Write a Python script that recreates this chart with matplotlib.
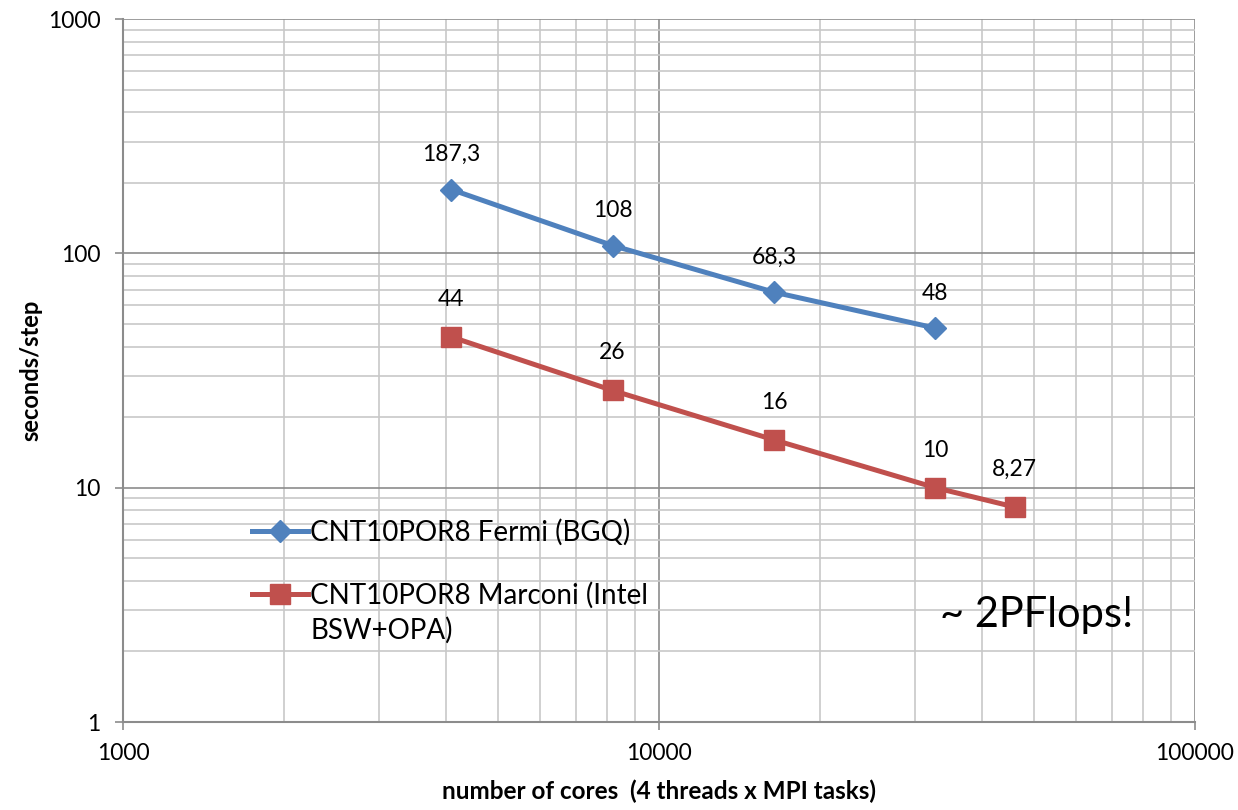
import matplotlib.pyplot as plt
from matplotlib.ticker import FixedLocator, FixedFormatter, LogLocator, NullFormatter

plt.rcParams['font.family'] = ['Lato', 'DejaVu Sans']

# data
cores_fermi = [4096, 8192, 16384, 32768]
time_fermi = [187.3, 108, 68.3, 48]
labels_fermi = ['187,3', '108', '68,3', '48']

cores_marconi = [4096, 8192, 16384, 32768, 46080]
time_marconi = [44, 26, 16, 10, 8.27]
labels_marconi = ['44', '26', '16', '10', '8,27']

blue = '#4F81BD'
red = '#C0504D'

fig = plt.figure(figsize=(12.38, 8.10), dpi=100)
ax = fig.add_axes([0.0994, 0.1086, 0.8659, 0.8679])

ax.plot(cores_fermi, time_fermi, color=blue, lw=3.6, marker='D', ms=11,
        label='CNT10POR8 Fermi (BGQ)', zorder=3)
ax.plot(cores_marconi, time_marconi, color=red, lw=3.6, marker='s', ms=14,
        label='CNT10POR8 Marconi (Intel', zorder=3)

for x, y, t in zip(cores_fermi, time_fermi, labels_fermi):
    ax.annotate(t, (x, y), xytext=(0, 25), textcoords='offset points',
                ha='center', va='center', fontsize=16.5)
for x, y, t in zip(cores_marconi, time_marconi, labels_marconi):
    ax.annotate(t, (x, y), xytext=(0, 27), textcoords='offset points',
                ha='center', va='center', fontsize=16.5)

ax.set_xscale('log')
ax.set_yscale('log')
ax.set_xlim(1000, 100000)
ax.set_ylim(1, 1000)

ax.xaxis.set_major_locator(FixedLocator([1000, 10000, 100000]))
ax.xaxis.set_major_formatter(FixedFormatter(['1000', '10000', '100000']))
ax.yaxis.set_major_locator(FixedLocator([1, 10, 100, 1000]))
ax.yaxis.set_major_formatter(FixedFormatter(['1', '10', '100', '1000']))
ax.xaxis.set_minor_locator(LogLocator(base=10, subs=range(2, 10)))
ax.yaxis.set_minor_locator(LogLocator(base=10, subs=range(2, 10)))
ax.xaxis.set_minor_formatter(NullFormatter())
ax.yaxis.set_minor_formatter(NullFormatter())

ax.grid(True, which='major', color='#8c8c8c', lw=1.2)
ax.grid(True, which='minor', color='#c8c8c8', lw=1.2)
ax.set_axisbelow(True)

ax.tick_params(which='major', length=6, width=1.2, color='#8c8c8c',
               labelsize=16.5, pad=9)
ax.tick_params(axis='y', which='major', pad=10)
ax.tick_params(which='minor', length=0)
for s in ['left', 'bottom']:
    ax.spines[s].set_color('#8c8c8c')
    ax.spines[s].set_linewidth(1.5)
for s in ['top', 'right']:
    ax.spines[s].set_visible(False)

ax.set_xlabel('number of cores  (4 threads x MPI tasks)', fontsize=17.5,
              fontweight='bold', labelpad=11)
ax.set_ylabel('seconds/step', fontsize=17, fontweight='bold', labelpad=4)

leg = ax.legend(loc='upper left', bbox_to_anchor=(0.097, 0.324), frameon=False,
                fontsize=20, handlelength=2.0, handletextpad=0.1,
                labelspacing=1.3)

# second line of the Marconi legend label, placed under the first line
fig.canvas.draw()
bb = leg.get_texts()[1].get_window_extent()
W, H = fig.get_size_inches() * fig.dpi
fig.text(bb.x0 / W, (bb.y0 - 8) / H, 'BSW+OPA)', fontsize=20,
         ha='left', va='top')

ax.text(0.762, 0.152, '~ 2PFlops!', transform=ax.transAxes, fontsize=30,
        ha='left', va='center')

fig.savefig('out.png', dpi=100)
